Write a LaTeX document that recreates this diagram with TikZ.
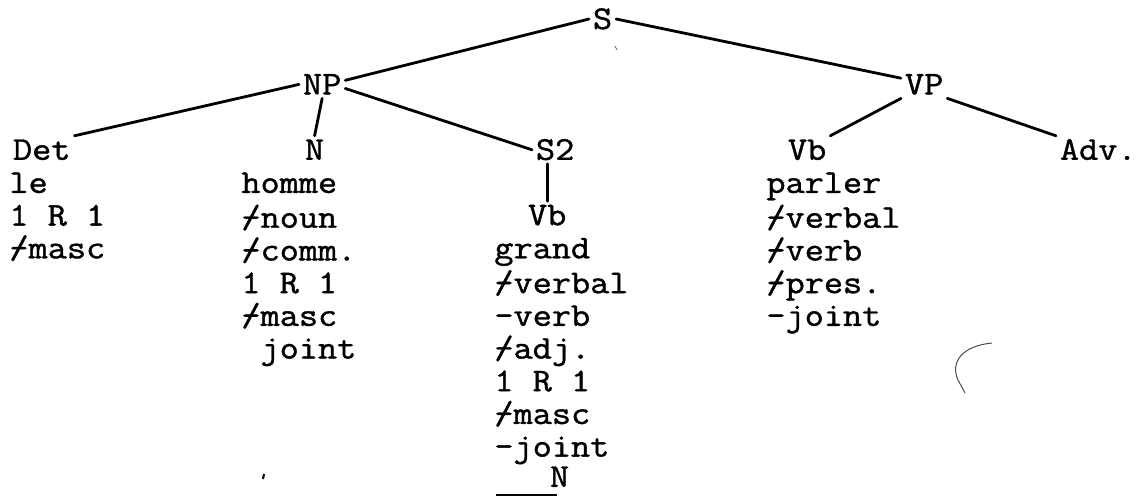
\documentclass[tikz,border=0pt]{standalone}
\usepackage{fontspec}
\setmonofont[FakeStretch=1.12, FakeBold=1.2]{Latin Modern Mono}
\usepackage{tikz}
\newcommand{\tw}{\ttfamily\fontsize{16.6}{16.35}\selectfont}
\newcommand{\slb}{\makebox[0pt][l]{/}-}

\begin{document}
\begin{tikzpicture}[x=0.5pt, y=-0.5pt,
        head/.style={inner sep=0pt, outer sep=2pt, anchor=base west, text height=10pt, text depth=0pt, font=\tw},
        feats/.style={inner sep=0pt, anchor=north west, align=left, font=\tw},
        edge/.style={line width=1.4pt, line cap=round}
      ]
        \useasboundingbox (0,0) rectangle (1140,497);

        \node[head]  (s)    at (589, 29)      {S};
        \node[head]  (np)   at (299, 94.4)    {NP};
        \node[head]  (vp)   at (901, 94.4)    {VP};
        \node[head]  (det)  at (9, 159.8)     {Det};
        \node[head]  (n)    at (301, 159.8)   {N};
        \node[head]  (s2)   at (532, 159.8)   {S2};
        \node[head]  (vb)   at (784, 159.8)   {Vb};
        \node[head]  (adv)  at (1056, 159.8)  {Adv.};
        \node[head]  (vbs)  at (524, 225.2)   {Vb};
        \node[head]  (nn)   at (546, 486.8)   {N};

        \node[feats] (detf) at (9, 169.6)     {\strut le\\1 R 1\\\slb masc};
        \node[feats] (nf)   at (241, 169.6)   {\strut homme\\\slb noun\\\slb comm.\\1 R 1\\\slb masc\\~joint};
        \node[feats] (vbsf) at (494, 235)     {\strut grand\\\slb verbal\\-verb\\\slb adj.\\1 R 1\\\slb masc\\-joint};
        \node[feats] (vbf)  at (766, 169.6)   {\strut parler\\\slb verbal\\\slb verb\\\slb pres.\\-joint};

        \draw[edge]  (s.west) -- (np.10);
        \draw[edge]  (s.east) -- (vp.165);
        \draw[edge]  (np.west) -- (det.north east);
        \draw[edge]  (np.south) -- (n.north);
        \draw[edge]  (np.-10) -- (s2.west);
        \draw[edge]  (vbs.north |- s2.south) -- (vbs.north);
        \draw[edge]  (vp.south west) -- (vb.north east);
        \draw[edge]  (vp.south east) -- (adv.north west);

        \draw[line width=1pt] ([xshift=-25pt, yshift=-2.1pt]nn.south west) -- ([xshift=5.5pt, yshift=-2.1pt]nn.south west);

        \draw[line width=0.5pt, black!70] (992,343) .. controls (962,346) and (950,362) .. (958,380) -- (965,393);
        \draw[line width=1pt] (264,474) -- (263,479);
        \draw[line width=0.4pt, black!60] (615,46) -- (617,50);
      \end{tikzpicture}
\end{document}
